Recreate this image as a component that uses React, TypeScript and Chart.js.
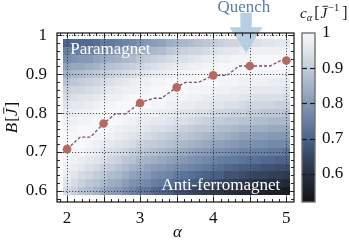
import React, { useEffect, useRef } from "react";
import { Chart, registerables } from "chart.js";

Chart.register(...registerables);

// ---------------- data ----------------
const ALPHA_COLS = [2.0, 2.1, 2.2, 2.3, 2.4, 2.5, 2.6, 2.7, 2.8, 2.9, 3.0, 3.1, 3.2, 3.3, 3.4, 3.5, 3.6, 3.7, 3.8, 3.9, 4.0, 4.1, 4.2, 4.3, 4.4, 4.5, 4.6, 4.7, 4.8, 4.9, 5.0];
const B_ROWS = [0.6, 0.62, 0.64, 0.66, 0.68, 0.7, 0.72, 0.74, 0.76, 0.78, 0.8, 0.82, 0.84, 0.86, 0.88, 0.9, 0.92, 0.94, 0.96, 0.98];
// c_alpha values, one row per B (bottom row first), one entry per alpha column
const C_ROWS = [
  [0.93, 0.91, 0.88, 0.87, 0.85, 0.83, 0.81, 0.80, 0.78, 0.76, 0.74, 0.73, 0.71, 0.70, 0.69, 0.67, 0.66, 0.65, 0.64, 0.63, 0.62, 0.61, 0.60, 0.59, 0.58, 0.57, 0.56, 0.56, 0.55, 0.55, 0.54],
  [0.95, 0.93, 0.91, 0.89, 0.88, 0.86, 0.84, 0.83, 0.81, 0.79, 0.78, 0.77, 0.75, 0.74, 0.72, 0.71, 0.70, 0.69, 0.68, 0.67, 0.66, 0.65, 0.64, 0.63, 0.62, 0.61, 0.60, 0.60, 0.59, 0.59, 0.58],
  [0.97, 0.95, 0.93, 0.92, 0.90, 0.89, 0.87, 0.86, 0.84, 0.82, 0.81, 0.80, 0.78, 0.77, 0.76, 0.74, 0.73, 0.72, 0.71, 0.70, 0.69, 0.69, 0.67, 0.67, 0.66, 0.65, 0.64, 0.64, 0.63, 0.63, 0.62],
  [0.98, 0.97, 0.96, 0.94, 0.93, 0.91, 0.90, 0.88, 0.87, 0.85, 0.84, 0.82, 0.81, 0.80, 0.79, 0.78, 0.77, 0.76, 0.75, 0.74, 0.73, 0.72, 0.71, 0.70, 0.69, 0.69, 0.68, 0.67, 0.67, 0.66, 0.66],
  [0.99, 0.98, 0.97, 0.96, 0.95, 0.94, 0.92, 0.91, 0.89, 0.88, 0.86, 0.85, 0.84, 0.83, 0.82, 0.81, 0.80, 0.79, 0.78, 0.77, 0.76, 0.75, 0.74, 0.74, 0.73, 0.72, 0.72, 0.71, 0.71, 0.70, 0.70],
  [1.00, 0.99, 0.99, 0.98, 0.97, 0.95, 0.94, 0.93, 0.92, 0.90, 0.89, 0.88, 0.87, 0.86, 0.85, 0.84, 0.83, 0.82, 0.81, 0.80, 0.79, 0.79, 0.78, 0.77, 0.76, 0.76, 0.75, 0.75, 0.74, 0.74, 0.73],
  [1.00, 1.00, 1.00, 0.99, 0.98, 0.97, 0.96, 0.95, 0.94, 0.93, 0.91, 0.90, 0.90, 0.89, 0.88, 0.87, 0.86, 0.85, 0.84, 0.83, 0.82, 0.82, 0.81, 0.80, 0.79, 0.79, 0.78, 0.78, 0.77, 0.77, 0.77],
  [1.00, 1.00, 1.00, 1.00, 0.99, 0.99, 0.98, 0.97, 0.96, 0.95, 0.94, 0.93, 0.92, 0.91, 0.90, 0.89, 0.89, 0.88, 0.87, 0.86, 0.85, 0.85, 0.84, 0.83, 0.82, 0.82, 0.81, 0.81, 0.80, 0.80, 0.80],
  [0.99, 0.99, 1.00, 1.00, 1.00, 1.00, 0.99, 0.98, 0.97, 0.97, 0.96, 0.95, 0.94, 0.94, 0.93, 0.92, 0.91, 0.90, 0.89, 0.89, 0.88, 0.87, 0.87, 0.86, 0.85, 0.85, 0.84, 0.84, 0.83, 0.83, 0.83],
  [0.98, 0.98, 0.99, 0.99, 1.00, 1.00, 1.00, 1.00, 0.99, 0.98, 0.97, 0.97, 0.96, 0.96, 0.95, 0.94, 0.94, 0.93, 0.92, 0.91, 0.90, 0.90, 0.89, 0.89, 0.88, 0.88, 0.87, 0.87, 0.86, 0.86, 0.86],
  [0.97, 0.97, 0.98, 0.98, 0.99, 1.00, 1.00, 1.00, 1.00, 1.00, 0.99, 0.98, 0.98, 0.97, 0.97, 0.96, 0.95, 0.95, 0.94, 0.94, 0.93, 0.92, 0.92, 0.91, 0.91, 0.90, 0.90, 0.89, 0.89, 0.89, 0.88],
  [0.95, 0.96, 0.96, 0.97, 0.98, 0.99, 0.99, 1.00, 1.00, 1.00, 1.00, 1.00, 0.99, 0.99, 0.98, 0.98, 0.97, 0.97, 0.96, 0.96, 0.95, 0.95, 0.94, 0.94, 0.93, 0.92, 0.92, 0.92, 0.92, 0.91, 0.91],
  [0.93, 0.94, 0.95, 0.95, 0.96, 0.97, 0.98, 0.98, 0.99, 1.00, 1.00, 1.00, 1.00, 1.00, 0.99, 0.99, 0.99, 0.98, 0.98, 0.97, 0.97, 0.96, 0.96, 0.96, 0.95, 0.95, 0.94, 0.94, 0.94, 0.94, 0.93],
  [0.91, 0.92, 0.92, 0.93, 0.94, 0.95, 0.96, 0.97, 0.98, 0.98, 0.99, 0.99, 1.00, 1.00, 1.00, 1.00, 1.00, 0.99, 0.99, 0.99, 0.98, 0.98, 0.98, 0.97, 0.97, 0.97, 0.96, 0.96, 0.96, 0.96, 0.95],
  [0.88, 0.89, 0.90, 0.91, 0.92, 0.93, 0.94, 0.95, 0.96, 0.97, 0.98, 0.98, 0.99, 0.99, 1.00, 1.00, 1.00, 1.00, 1.00, 1.00, 1.00, 0.99, 0.99, 0.99, 0.98, 0.98, 0.98, 0.98, 0.97, 0.97, 0.97],
  [0.85, 0.86, 0.87, 0.88, 0.89, 0.90, 0.91, 0.92, 0.93, 0.94, 0.95, 0.96, 0.97, 0.97, 0.98, 0.99, 0.99, 0.99, 1.00, 1.00, 1.00, 1.00, 1.00, 1.00, 1.00, 0.99, 0.99, 0.99, 0.99, 0.99, 0.98],
  [0.82, 0.83, 0.83, 0.84, 0.85, 0.87, 0.88, 0.89, 0.90, 0.91, 0.92, 0.93, 0.94, 0.95, 0.96, 0.97, 0.97, 0.98, 0.98, 0.99, 0.99, 1.00, 1.00, 1.00, 1.00, 1.00, 1.00, 1.00, 1.00, 1.00, 1.00],
  [0.78, 0.79, 0.80, 0.80, 0.82, 0.83, 0.84, 0.85, 0.86, 0.87, 0.89, 0.90, 0.91, 0.92, 0.93, 0.94, 0.94, 0.95, 0.96, 0.97, 0.97, 0.98, 0.98, 0.99, 0.99, 0.99, 1.00, 1.00, 1.00, 1.00, 1.00],
  [0.75, 0.75, 0.75, 0.76, 0.77, 0.79, 0.79, 0.80, 0.81, 0.83, 0.84, 0.85, 0.86, 0.87, 0.89, 0.90, 0.91, 0.92, 0.92, 0.93, 0.94, 0.95, 0.96, 0.96, 0.97, 0.97, 0.98, 0.98, 0.98, 0.98, 0.99],
  [0.70, 0.71, 0.71, 0.71, 0.72, 0.74, 0.74, 0.75, 0.76, 0.77, 0.79, 0.80, 0.81, 0.82, 0.84, 0.85, 0.86, 0.87, 0.88, 0.89, 0.90, 0.91, 0.92, 0.92, 0.93, 0.94, 0.94, 0.95, 0.95, 0.96, 0.96],
];
// critical (dashed) line
const CRIT_ALPHA = [2.0, 2.18, 2.32, 2.5, 2.66, 2.8, 3.0, 3.18, 3.29, 3.5, 3.62, 3.8, 4.0, 4.19, 4.35, 4.5, 4.78, 4.92, 5.0, 5.06];
const CRIT_B = [0.707, 0.738, 0.738, 0.773, 0.798, 0.798, 0.826, 0.838, 0.838, 0.866, 0.879, 0.879, 0.897, 0.897, 0.921, 0.921, 0.921, 0.935, 0.935, 0.935];
// markers
const DOT_ALPHA = [2, 2.5, 3, 3.5, 4, 4.5, 5];
const DOT_B = [0.707, 0.773, 0.826, 0.866, 0.897, 0.921, 0.935];
// ticks
const X_TICKS = [2, 3, 4, 5];
const X_LABELS = ["2", "3", "4", "5"];
const Y_TICKS = [0.6, 0.7, 0.8, 0.9, 1];
const Y_LABELS = ["0.6", "0.7", "0.8", "0.9", "1"];
const CB_TICKS = [0.6, 0.7, 0.8, 0.9, 1];
const CB_LABELS = ["0.6", "0.7", "0.8", "0.9", "1"];

// ---------------- style ----------------
const SERIF = "'Liberation Serif', 'DejaVu Serif', serif";
const X_RANGE = [1.863, 5.105];
const Y_RANGE = [0.571, 1.006];
const CB_RANGE = [0.52, 1.0];
const HALF_DA = 0.05;
const HALF_DB = 0.01;

const CMAP: [number, number[]][] = [
  [0.52, [17, 18, 21]],
  [0.55, [26, 30, 38]],
  [0.60, [40, 48, 64]],
  [0.65, [56, 72, 100]],
  [0.70, [76, 100, 138]],
  [0.75, [103, 127, 162]],
  [0.80, [133, 152, 180]],
  [0.85, [164, 179, 199]],
  [0.90, [195, 204, 217]],
  [0.95, [224, 229, 236]],
  [1.00, [247, 248, 250]],
];

function cmap(v: number): string {
  if (v <= CMAP[0][0]) return `rgb(${CMAP[0][1].join(",")})`;
  for (let i = 1; i < CMAP.length; i++) {
    if (v <= CMAP[i][0]) {
      const [v0, c0] = CMAP[i - 1];
      const [v1, c1] = CMAP[i];
      const t = (v - v0) / (v1 - v0);
      const c = c0.map((a, k) => Math.round(a + (c1[k] - a) * t));
      return `rgb(${c.join(",")})`;
    }
  }
  return `rgb(${CMAP[CMAP.length - 1][1].join(",")})`;
}

// annotation anchors (data units)
const PARA_POS = [2.045, 0.952];
const ANTI_POS = [4.918, 0.602];
const QUENCH_POS = [4.42, 1.06];
const ARROW = { alpha: 4.45, tail: 1.058, headBase: 1.021, tip: 0.955, shaftHalf: 0.078, headHalf: 0.226 };

type Seg = { t: string; font: string; dy?: number; bar?: boolean; gap?: number };

function richWidth(ctx: any, segs: Seg[]) {
  let w = 0;
  segs.forEach((s) => {
    ctx.font = s.font;
    w += ctx.measureText(s.t).width + (s.gap || 0);
  });
  return w;
}

function drawRich(ctx: any, segs: Seg[], x: number, y: number, align: string) {
  const total = richWidth(ctx, segs);
  let cx = align === "center" ? x - total / 2 : x;
  ctx.textAlign = "left";
  ctx.textBaseline = "alphabetic";
  segs.forEach((s) => {
    ctx.font = s.font;
    const w = ctx.measureText(s.t).width;
    ctx.fillText(s.t, cx, y + (s.dy || 0));
    if (s.bar) {
      const size = parseFloat(s.font.match(/(\d+(\.\d+)?)px/)![1]);
      const by = y + (s.dy || 0) - size * 0.78;
      ctx.save();
      ctx.lineWidth = 0.9;
      ctx.strokeStyle = ctx.fillStyle;
      ctx.beginPath();
      ctx.moveTo(cx + w * 0.3, by);
      ctx.lineTo(cx + w * 1.15, by);
      ctx.stroke();
      ctx.restore();
    }
    cx += w + (s.gap || 0);
  });
}

const heatPlugin = {
  id: "heat",
  beforeDatasetsDraw(chart: any) {
    const { ctx, chartArea: a, scales } = chart;
    const x = scales.x;
    const y = scales.y;
    ctx.save();
    ctx.beginPath();
    ctx.rect(a.left, a.top, a.right - a.left, a.bottom - a.top);
    ctx.clip();
    ctx.fillStyle = "#ffffff";
    ctx.fillRect(a.left, a.top, a.right - a.left, a.bottom - a.top);
    B_ROWS.forEach((b, j) => {
      const yt = Math.round(y.getPixelForValue(b + HALF_DB));
      const yb = Math.round(y.getPixelForValue(b - HALF_DB));
      ALPHA_COLS.forEach((al, i) => {
        const xl = Math.round(x.getPixelForValue(al - HALF_DA));
        const xr = Math.round(x.getPixelForValue(al + HALF_DA));
        ctx.fillStyle = cmap(C_ROWS[j][i]);
        ctx.fillRect(xl, yt, xr - xl, yb - yt);
      });
    });
    // dotted grid
    ctx.strokeStyle = "rgba(45,45,45,0.9)";
    ctx.lineWidth = 0.9;
    ctx.setLineDash([1.2, 1.8]);
    for (let k = 4; k <= 10; k++) {
      const px = Math.round(x.getPixelForValue(k / 2)) + 0.5;
      ctx.beginPath();
      ctx.moveTo(px, a.top);
      ctx.lineTo(px, a.bottom);
      ctx.stroke();
    }
    Y_TICKS.forEach((v) => {
      const py = Math.round(y.getPixelForValue(v)) + 0.5;
      ctx.beginPath();
      ctx.moveTo(a.left, py);
      ctx.lineTo(a.right, py);
      ctx.stroke();
    });
    ctx.restore();
  },
  afterDatasetsDraw(chart: any) {
    const { ctx, chartArea: a, scales } = chart;
    const x = scales.x;
    const y = scales.y;
    const cb = scales.cb;
    ctx.save();

    // arrow
    const ax = x.getPixelForValue(ARROW.alpha);
    const sh = x.getPixelForValue(ARROW.alpha + ARROW.shaftHalf) - ax;
    const hh = x.getPixelForValue(ARROW.alpha + ARROW.headHalf) - ax;
    const yTail = y.getPixelForValue(ARROW.tail);
    const yHead = y.getPixelForValue(ARROW.headBase);
    const yTip = y.getPixelForValue(ARROW.tip);
    ctx.fillStyle = "rgba(180,204,223,0.95)";
    ctx.beginPath();
    ctx.moveTo(ax - sh, yTail);
    ctx.lineTo(ax + sh, yTail);
    ctx.lineTo(ax + sh, yHead);
    ctx.lineTo(ax + hh, yHead);
    ctx.lineTo(ax, yTip);
    ctx.lineTo(ax - hh, yHead);
    ctx.lineTo(ax - sh, yHead);
    ctx.closePath();
    ctx.fill();

    // frame
    ctx.strokeStyle = "#111";
    ctx.lineWidth = 1.2;
    ctx.strokeRect(a.left, a.top, a.right - a.left, a.bottom - a.top);

    // inward ticks
    ctx.lineWidth = 0.9;
    const line = (x1: number, y1: number, x2: number, y2: number) => {
      ctx.beginPath();
      ctx.moveTo(x1, y1);
      ctx.lineTo(x2, y2);
      ctx.stroke();
    };
    for (let k = 19; k <= 51; k++) {
      const v = k / 10;
      const px = Math.round(x.getPixelForValue(v)) + 0.5;
      if (px < a.left + 1 || px > a.right - 1) continue;
      const len = k % 5 === 0 ? 5.5 : 3;
      line(px, a.bottom, px, a.bottom - len);
      line(px, a.top, px, a.top + len);
    }
    for (let k = 29; k <= 50; k++) {
      const v = k / 50;
      const py = Math.round(y.getPixelForValue(v)) + 0.5;
      if (py < a.top + 1 || py > a.bottom - 1) continue;
      const len = k % 5 === 0 ? 5.5 : 3;
      line(a.left, py, a.left + len, py);
      line(a.right, py, a.right - len, py);
    }

    // texts
    ctx.fillStyle = "#ffffff";
    ctx.font = `17px ${SERIF}`;
    ctx.textBaseline = "alphabetic";
    ctx.textAlign = "left";
    ctx.fillText("Paramagnet", x.getPixelForValue(PARA_POS[0]), y.getPixelForValue(PARA_POS[1]));
    ctx.textAlign = "right";
    ctx.fillText("Anti-ferromagnet", x.getPixelForValue(ANTI_POS[0]), y.getPixelForValue(ANTI_POS[1]));
    ctx.fillStyle = "#5a7ea6";
    ctx.textAlign = "center";
    ctx.fillText("Quench", x.getPixelForValue(QUENCH_POS[0]), y.getPixelForValue(QUENCH_POS[1]));

    // colorbar
    const cx0 = a.right + 8;
    const cw = 13;
    for (let py = Math.floor(cb.top); py < cb.bottom; py++) {
      ctx.fillStyle = cmap(cb.getValueForPixel(py + 0.5));
      ctx.fillRect(cx0, py, cw, 1);
    }
    ctx.strokeStyle = "#707070";
    ctx.lineWidth = 1.4;
    ctx.strokeRect(cx0, cb.top, cw, cb.bottom - cb.top);
    ctx.strokeStyle = "#1a1a1a";
    ctx.lineWidth = 1.2;
    CB_TICKS.forEach((v) => {
      if (v >= 1) return;
      const py = Math.round(cb.getPixelForValue(v)) + 0.5;
      line(cx0, py, cx0 + 5, py);
      line(cx0 + cw - 5, py, cx0 + cw, py);
    });

    // colorbar label  c_alpha [ Jbar^{-1} ]
    ctx.fillStyle = "#1a1a1a";
    drawRich(
      ctx,
      [
        { t: "c", font: `italic 15px ${SERIF}` },
        { t: "α", font: `italic 10.5px ${SERIF}`, dy: 3, gap: 2 },
        { t: "[", font: `16px ${SERIF}`, gap: 1 },
        { t: "J", font: `italic 15px ${SERIF}`, bar: true, gap: 1 },
        { t: "−1", font: `10.5px ${SERIF}`, dy: -7, gap: 3 },
        { t: "]", font: `16px ${SERIF}` },
      ],
      300,
      18,
      "left"
    );

    // x axis title
    ctx.fillStyle = "#111";
    ctx.font = `italic 17px ${SERIF}`;
    ctx.textAlign = "center";
    ctx.fillText("α", (a.left + a.right) / 2 + 2, 237);

    // y axis title (rotated)
    ctx.save();
    ctx.translate(17, (a.top + a.bottom) / 2);
    ctx.rotate(-Math.PI / 2);
    drawRich(
      ctx,
      [
        { t: "B", font: `italic 17px ${SERIF}`, gap: 1 },
        { t: "[", font: `17px ${SERIF}` },
        { t: "J", font: `italic 17px ${SERIF}`, bar: true, gap: 1 },
        { t: "]", font: `17px ${SERIF}` },
      ],
      0,
      0,
      "center"
    );
    ctx.restore();

    ctx.restore();
  },
};

const noPad = (s: any) => {
  s.paddingTop = 0;
  s.paddingBottom = 0;
};

export default function App() {
  const ref = useRef<HTMLCanvasElement | null>(null);
  useEffect(() => {
    const canvas = ref.current;
    if (!canvas) return;
    const tickFont = { family: SERIF, size: 17 };
    const chart = new Chart(canvas, {
      type: "scatter",
      data: {
        datasets: [
          {
            type: "line",
            data: CRIT_ALPHA.map((a, i) => ({ x: a, y: CRIT_B[i] })),
            borderColor: "#7a4a7c",
            borderWidth: 1.3,
            borderDash: [3, 2],
            pointRadius: 0,
            fill: false,
            tension: 0,
            order: 1,
          } as any,
          {
            type: "scatter",
            data: DOT_ALPHA.map((a, i) => ({ x: a, y: DOT_B[i] })),
            pointRadius: 4.3,
            pointHoverRadius: 4.3,
            backgroundColor: "#b66a5d",
            borderColor: "#b66a5d",
            borderWidth: 0,
            order: 0,
          } as any,
        ],
      },
      options: {
        animation: false,
        responsive: false,
        devicePixelRatio: 1,
        events: [],
        layout: { autoPadding: false, padding: { top: 33, left: 0, right: 0, bottom: 0 } },
        plugins: { legend: { display: false }, tooltip: { enabled: false } },
        scales: {
          x: {
            type: "linear",
            position: "bottom",
            min: X_RANGE[0],
            max: X_RANGE[1],
            grid: { display: false, drawTicks: false },
            border: { display: false },
            ticks: {
              font: tickFont,
              color: "#111",
              padding: 6,
              autoSkip: false,
              maxRotation: 0,
              callback: (_v: any, i: number) => X_LABELS[i],
            },
            afterBuildTicks: (s: any) => {
              s.ticks = X_TICKS.map((v) => ({ value: v }));
            },
            afterFit: (s: any) => {
              s.height = 42;
              s.paddingLeft = 0;
              s.paddingRight = 0;
            },
          },
          y: {
            type: "linear",
            position: "left",
            min: Y_RANGE[0],
            max: Y_RANGE[1],
            grid: { display: false, drawTicks: false },
            border: { display: false },
            ticks: {
              font: tickFont,
              color: "#111",
              padding: 10,
              autoSkip: false,
              callback: (_v: any, i: number) => Y_LABELS[i],
            },
            afterBuildTicks: (s: any) => {
              s.ticks = Y_TICKS.map((v) => ({ value: v }));
            },
            afterFit: (s: any) => {
              s.width = 57;
              noPad(s);
            },
          },
          cb: {
            type: "linear",
            position: "right",
            min: CB_RANGE[0],
            max: CB_RANGE[1],
            grid: { display: false, drawTicks: false },
            border: { display: false },
            ticks: {
              font: tickFont,
              color: "#111",
              padding: 28,
              autoSkip: false,
              callback: (_v: any, i: number) => CB_LABELS[i],
            },
            afterBuildTicks: (s: any) => {
              s.ticks = CB_TICKS.map((v) => ({ value: v }));
            },
            afterFit: (s: any) => {
              s.width = 55;
              noPad(s);
            },
          },
        },
      } as any,
      plugins: [heatPlugin],
    });
    return () => chart.destroy();
  }, []);
  return (
    <div style={{ position: "fixed", left: 0, top: 0, width: 349, height: 244, background: "#fff" }}>
      <canvas ref={ref} width={349} height={244} style={{ display: "block" }} />
    </div>
  );
}
